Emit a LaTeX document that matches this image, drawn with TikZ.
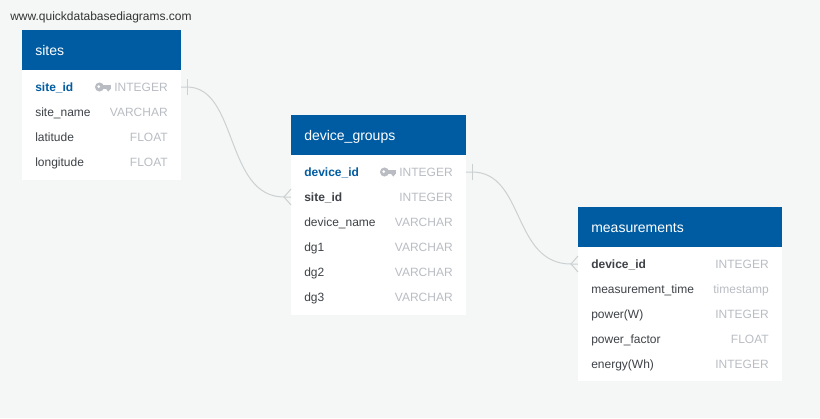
\documentclass[tikz,border=0pt]{standalone}
\usepackage{fontspec}
\setmainfont{Liberation Sans}
\usepackage{tikz}
\usetikzlibrary{positioning}
\definecolor{pagebg}{HTML}{F5F7F7}
\definecolor{headblue}{HTML}{005CA2}
\definecolor{rowtext}{HTML}{3E4247}
\definecolor{typegray}{HTML}{B9BDC3}
\definecolor{linkgray}{HTML}{CDD0D0}
\tikzset{
    tablehead/.style={fill=headblue, inner sep=0pt, minimum height=30pt, anchor=north west},
    tablebody/.style={fill=white, inner sep=0pt, anchor=north west},
    headtext/.style={text=white, font=\fontsize{10.5pt}{12pt}\selectfont, inner sep=0pt, anchor=base west},
    rowname/.style={text=rowtext, font=\fontsize{9pt}{11pt}\selectfont, inner sep=0pt, anchor=base west},
    rowtype/.style={text=typegray, font=\fontsize{9pt}{11pt}\selectfont, inner sep=0pt, anchor=base east},
    pkname/.style={rowname, text=headblue, font=\fontsize{9pt}{11pt}\selectfont\bfseries},
    fkname/.style={rowname, font=\fontsize{9pt}{11pt}\selectfont\bfseries},
    link/.style={draw=linkgray, line width=0.75pt},
    keyicon/.pic={
        \fill[typegray] (0,0) circle (3.4pt);
        \fill[typegray] (0,-1.3pt) rectangle (8.4pt,1.5pt);
        \fill[typegray] (4.8pt,-1.3pt) -- (8.4pt,-1.3pt) -- (6.6pt,-3.4pt) -- cycle;
        \fill[white] (-0.6pt,0.3pt) circle (1.1pt);
    }
}
\begin{document}
\begin{tikzpicture}[x=0.75pt,y=-0.75pt]
    \fill[pagebg] (0,0) rectangle (820,418);
    \useasboundingbox (0,0) rectangle (820,418);
    \node[rowname, text=black!80, font=\fontsize{9pt}{11pt}\selectfont] (siteurl) at (10,20) {www.quickdatabasediagrams.com};

    \node[tablebody, minimum width=119.25pt, minimum height=82.5pt] (sitesbody) at (22,70) {};
    \node[tablehead, minimum width=119.25pt] (siteshead) at (22,30) {};
    \node[headtext] (sitestitle) at (35,55) {sites};
    \node[pkname] (sitesname1) at (35,91.5) {site\_id};
    \node[rowname] (sitesname2) at (35,116.5) {site\_name};
    \node[rowname] (sitesname3) at (35,141.5) {latitude};
    \node[rowname] (sitesname4) at (35,166.5) {longitude};
    \node[rowtype] (sitestype1) at (168,91.5) {INTEGER};
    \node[rowtype] (sitestype2) at (168,116.5) {VARCHAR};
    \node[rowtype] (sitestype3) at (168,141.5) {FLOAT};
    \node[rowtype] (sitestype4) at (168,166.5) {FLOAT};
    \pic at (99.5,87) {keyicon};

    \node[tablebody, minimum width=131.25pt, minimum height=120pt] (groupsbody) at (291,155) {};
    \node[tablehead, minimum width=131.25pt] (groupshead) at (291,115) {};
    \node[headtext] (groupstitle) at (304,140) {device\_groups};
    \node[pkname] (groupsname1) at (304,176.5) {device\_id};
    \node[fkname] (groupsname2) at (304,201.5) {site\_id};
    \node[rowname] (groupsname3) at (304,226.5) {device\_name};
    \node[rowname] (groupsname4) at (304,251.5) {dg1};
    \node[rowname] (groupsname5) at (304,276.5) {dg2};
    \node[rowname] (groupsname6) at (304,301.5) {dg3};
    \node[rowtype] (groupstype1) at (453,176.5) {INTEGER};
    \node[rowtype] (groupstype2) at (453,201.5) {INTEGER};
    \node[rowtype] (groupstype3) at (453,226.5) {VARCHAR};
    \node[rowtype] (groupstype4) at (453,251.5) {VARCHAR};
    \node[rowtype] (groupstype5) at (453,276.5) {VARCHAR};
    \node[rowtype] (groupstype6) at (453,301.5) {VARCHAR};
    \pic at (384.5,172) {keyicon};

    \node[tablebody, minimum width=153pt, minimum height=100.5pt] (measbody) at (578,247) {};
    \node[tablehead, minimum width=153pt] (meashead) at (578,207) {};
    \node[headtext] (meastitle) at (591,232) {measurements};
    \node[fkname] (measname1) at (591,268.5) {device\_id};
    \node[rowname] (measname2) at (591,293.5) {measurement\_time};
    \node[rowname] (measname3) at (591,318.5) {power(W)};
    \node[rowname] (measname4) at (591,343.5) {power\_factor};
    \node[rowname] (measname5) at (591,368.5) {energy(Wh)};
    \node[rowtype] (meastype1) at (769,268.5) {INTEGER};
    \node[rowtype] (meastype2) at (769,293.5) {timestamp};
    \node[rowtype] (meastype3) at (769,318.5) {INTEGER};
    \node[rowtype] (meastype4) at (769,343.5) {FLOAT};
    \node[rowtype] (meastype5) at (769,368.5) {INTEGER};

    \coordinate (sitesout) at (181,87);
    \coordinate (sitestick) at (187,87);
    \coordinate (groupsfoot) at (284,197);
    \coordinate (groupsin) at (291,197);
    \coordinate (groupsout) at (466,172);
    \coordinate (groupstick) at (472,172);
    \coordinate (measfoot) at (571,264);
    \coordinate (measin) at (578,264);

    \draw[link] (sitesout) -- (sitestick) .. controls (238,87) and (225,197) .. (groupsfoot) -- (groupsin);
    \draw[link] ([yshift=-6]sitestick) -- ([yshift=6]sitestick);
    \draw[link] ([yshift=-6]groupsin) -- (groupsfoot) -- ([yshift=6]groupsin);

    \draw[link] (groupsout) -- (groupstick) .. controls (525,172) and (512,264) .. (measfoot) -- (measin);
    \draw[link] ([yshift=-6]groupstick) -- ([yshift=6]groupstick);
    \draw[link] ([yshift=-6]measin) -- (measfoot) -- ([yshift=6]measin);
\end{tikzpicture}
\end{document}
